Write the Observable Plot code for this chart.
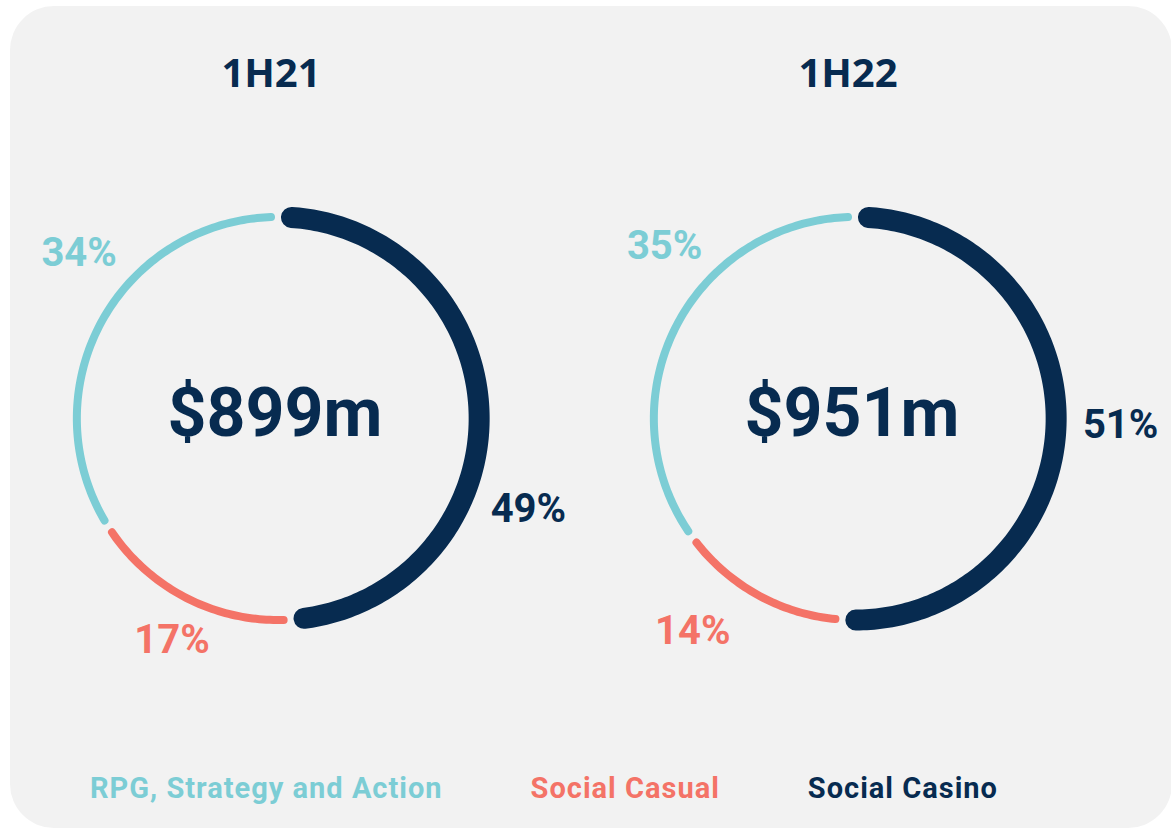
<!DOCTYPE html>
<html><head><meta charset="utf-8">
<script src="https://cdn.jsdelivr.net/npm/d3@7"></script>
<script src="https://cdn.jsdelivr.net/npm/@observablehq/plot@0.6"></script>
<style>
html,body{margin:0;padding:0;background:#fff;width:1171px;height:830px;overflow:hidden;position:relative;}
#panel{position:absolute;left:10px;top:6px;width:1162px;height:822px;background:#f2f2f2;border-radius:44px;}
#chart{position:absolute;left:0;top:0;}
#legend{position:absolute;left:0;top:771px;height:72px;line-height:72px;display:flex;gap:88px;padding-left:90px;font:700 29px Roboto, sans-serif;letter-spacing:1px;white-space:nowrap;}
</style></head><body>
<div id="panel"></div><div id="chart"></div><div id="legend"></div>
<script>
// ---- data ----
const periods = ["1H21", "1H22"];
const totals = [899, 951];                       // $m
const categories = ["Social Casino", "Social Casual", "RPG, Strategy and Action"]; // clockwise from top
const shares1H21 = [49, 17, 34];
const shares1H22 = [51, 14, 35];
const legendOrder = ["RPG, Strategy and Action", "Social Casual", "Social Casino"];

// ---- styling / layout (not data) ----
const colors = {"Social Casino": "#072b50", "Social Casual": "#f47367", "RPG, Strategy and Action": "#7ccdd5"};
const widths = {"Social Casino": 21, "Social Casual": 8, "RPG, Strategy and Action": 8};
const labelPlacement = {
  "1H21": {turn: [0.305, 0.571, 0.860], radius: [1.323, 1.221, 1.283]},
  "1H22": {turn: [0.254, 0.604, 0.867], radius: [1.321, 1.327, 1.276]}
};
const R_PX = 201.5;

const sharesByPeriod = {"1H21": shares1H21, "1H22": shares1H22};
const arcPts = [];
const labels = [];
periods.forEach(p => {
  let cum = 0;
  const s = sharesByPeriod[p];
  categories.forEach((c, i) => {
    const t0 = cum / 100, t1 = (cum + s[i]) / 100;
    cum += s[i];
    const g = (widths[c] / 2 + 3) / R_PX / (2 * Math.PI);
    const a = t0 + g, b = t1 - g;
    const n = Math.max(2, Math.ceil((b - a) * 360));
    for (let k = 0; k <= n; k++) {
      const t = a + (b - a) * k / n;
      arcPts.push({period: p, category: c, x: Math.sin(2 * Math.PI * t), y: Math.cos(2 * Math.PI * t)});
    }
    const lp = labelPlacement[p];
    labels.push({period: p, category: c, share: s[i],
      x: lp.radius[i] * Math.sin(2 * Math.PI * lp.turn[i]),
      y: lp.radius[i] * Math.cos(2 * Math.PI * lp.turn[i])});
  });
});
const centers = periods.map((p, i) => ({period: p, total: totals[i]}));

const plot = Plot.plot({
  width: 1171, height: 750,
  marginLeft: 15, marginRight: 54, marginTop: 156, marginBottom: 70,
  style: {background: "transparent", overflow: "visible"},
  fx: {domain: periods, axis: null, paddingInner: 0.0934, paddingOuter: 0},
  x: {domain: [-1.3, 1.3], axis: null},
  y: {domain: [-1.3, 1.3], axis: null},
  marks: [
    ...categories.map(c => Plot.line(arcPts.filter(d => d.category === c), {
      fx: "period", x: "x", y: "y", z: "period",
      stroke: colors[c], strokeWidth: widths[c], strokeLinecap: "round", strokeLinejoin: "round"
    })),
    Plot.text(labels, {fx: "period", x: "x", y: "y", text: d => d.share + "%",
      fill: d => colors[d.category], fontSize: 40, fontWeight: 700, fontFamily: "Roboto"}),
    Plot.text(centers, {fx: "period", x: () => 0, y: () => 0, text: d => "$" + d.total + "m",
      fill: "#072b50", fontSize: 68, fontWeight: 700, fontFamily: "Roboto", dy: -4, dx: -3}),
    Plot.text(periods, {fx: d => d, frameAnchor: "top", lineAnchor: "middle", text: d => d,
      dy: -82, dx: -7, fontSize: 40, fontWeight: 700, fontFamily: "Open Sans", fill: "#072b50"})
  ]
});
document.getElementById("chart").appendChild(plot);

const legend = document.getElementById("legend");
legendOrder.forEach(c => {
  const s = document.createElement("span");
  s.textContent = c;
  s.style.color = colors[c];
  legend.appendChild(s);
});
</script>
</body></html>
